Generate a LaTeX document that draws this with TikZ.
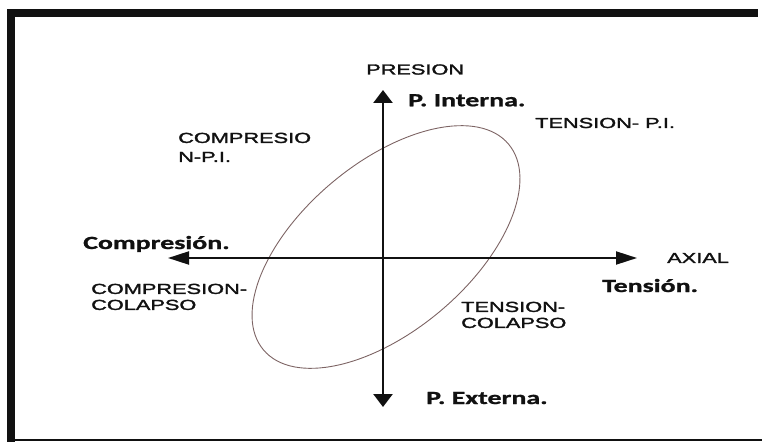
\documentclass[tikz,border=0pt]{standalone}
\usepackage{fontspec}
\usepackage{tikz}
\usetikzlibrary{positioning, arrows.meta}
\newfontfamily\regionfont[FakeStretch=1.5, FakeBold=2]{Liberation Sans}
\newfontfamily\axisfont[FakeStretch=1.5, FakeBold=1.2]{Carlito}
\definecolor{inkblack}{HTML}{111111}
\definecolor{curvebrown}{HTML}{7D6464}

\begin{document}
\begin{tikzpicture}[
  x=1pt, y=1pt,
  every node/.style={inner sep=0pt, text=inkblack},
  regionlabel/.style={
    font=\regionfont\fontsize{14.5}{16}\selectfont,
    align=left,
  },
  axislabel/.style={
    font=\axisfont\bfseries\fontsize{18.6}{20}\selectfont,
  },
  vaxis/.style={
    {Triangle[length=13pt, width=19pt]}-{Triangle[length=13pt, width=19pt]},
    line width=2.6pt,
    draw=inkblack,
  },
  haxis/.style={
    {Triangle[length=21pt, width=13pt]}-{Triangle[length=21pt, width=13pt]},
    line width=2pt,
    draw=inkblack,
  },
  envelope/.style={
    draw=curvebrown,
    line width=0.9pt,
  },
]
  \useasboundingbox (0,0) rectangle (762,442);

  % frame
  \fill[inkblack] (7,425) rectangle (758,433);
  \fill[inkblack] (7,0) rectangle (15,433);
  \draw[inkblack, line width=2pt] (15,2) -- (762,2);

  % axis ends
  \coordinate (top) at (383,352);
  \coordinate (bottom) at (383,35);
  \coordinate (left) at (168,184);
  \coordinate (right) at (637,184);
  \coordinate (centre) at (386,195);

  \draw[envelope, rotate around={40:(centre)}] (centre) ellipse [x radius=160, y radius=84];

  \draw[haxis] (left) -- (right);
  \draw[vaxis] (bottom) -- (top);

  \node[regionlabel, anchor=base west] (presion) at (366,367.5) {PRESION};
  \node[axislabel, below right=4pt and 25pt of top] (interna) {P. Interna.};
  \node[axislabel, anchor=base west] (externa) at (426,38) {P. Externa.};
  \node[regionlabel, right=30pt of right] (axial) {AXIAL};
  \node[axislabel, anchor=base west] (compresion) at (83,193) {Compresión.};
  \node[axislabel, anchor=base west] (tension) at (602,150) {Tensión.};

  \node[regionlabel, anchor=base west] (tensionpi) at (535,314) {TENSION- P.I.};
  \node[regionlabel, anchor=north west, font=\regionfont\fontsize{14.5}{19}\selectfont] (compresionpi) at (178,309.4) {COMPRESIO\\N-P.I.};
  \node[regionlabel, anchor=north west] (compresioncol) at (91,158.4) {COMPRESION-\\COLAPSO};
  \node[regionlabel, anchor=north west] (tensioncol) at (461,140.4) {TENSION-\\COLAPSO};
\end{tikzpicture}
\end{document}
